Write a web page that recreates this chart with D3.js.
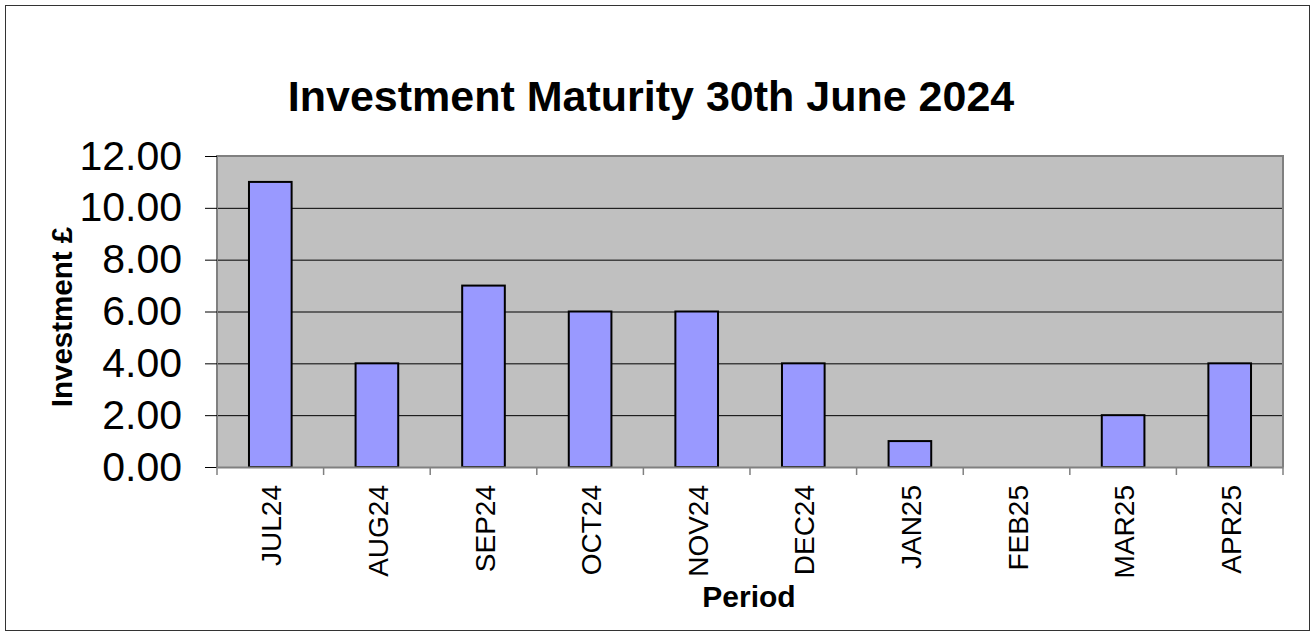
<!DOCTYPE html>
<html><head><meta charset="utf-8">
<script src="https://cdn.jsdelivr.net/npm/d3@7"></script>
<style>body{margin:0;background:#fff}svg{display:block}text{font-family:"Liberation Sans",Arial,sans-serif}</style>
</head><body><svg id="c" width="1313" height="632"></svg>
<script>
const categories = ["JUL24","AUG24","SEP24","OCT24","NOV24","DEC24","JAN25","FEB25","MAR25","APR25"];
const values = [11,4,7,6,6,4,1,0,2,4];
const yTicks = [0,2,4,6,8,10,12];
const title = "Investment Maturity 30th June 2024";
const yTitle = "Investment £";
const xTitle = "Period";

const svg = d3.select("#c");
const m = {l:217, t:156, r:1283, b:467};
svg.append("rect").attr("x",5.5).attr("y",5.5).attr("width",1304).attr("height",625).attr("fill","#fff").attr("stroke","#333").attr("stroke-width",1);

const x = d3.scaleBand().domain(categories).range([m.l,m.r]).paddingInner(0.6).paddingOuter(0.3);
const xb = d3.scaleBand().domain(categories).range([m.l,m.r]);
const y = d3.scaleLinear().domain([0,12]).range([m.b,m.t]);

svg.append("rect").attr("x",m.l).attr("y",m.t).attr("width",m.r-m.l).attr("height",m.b-m.t).attr("fill","#C0C0C0");
// gridlines
svg.append("g").selectAll("line").data(yTicks.filter(d=>d>0&&d<12)).join("line")
  .attr("x1",m.l).attr("x2",m.r).attr("y1",d=>y(d)+0.5).attr("y2",d=>y(d)+0.5).attr("stroke","#000").attr("stroke-width",1);
// plot border gray
svg.append("path").attr("d",`M${m.l},${m.b}V${m.t}H${m.r}V${m.b}`).attr("fill","none").attr("stroke","#808080").attr("stroke-width",2);

// bars
svg.append("g").selectAll("rect").data(values).join("rect")
  .attr("x",(d,i)=>x(categories[i])).attr("width",x.bandwidth())
  .attr("y",d=>y(d)).attr("height",d=>y(0)-y(d))
  .attr("fill","#9999FF").attr("stroke","#000").attr("stroke-width",2)
  .attr("display",d=>d>0?null:"none");

// y axis
const ya = svg.append("g").attr("transform",`translate(${m.l},0)`)
  .call(d3.axisLeft(y).tickValues(yTicks).tickFormat(d3.format(".2f")).tickSize(12).tickPadding(23));
ya.select(".domain").remove();
ya.selectAll("line").attr("stroke","#000");
ya.selectAll("text").attr("font-size",41).attr("fill","#000").attr("font-family","Liberation Sans, Arial, sans-serif");

// x axis
const xa = svg.append("g").attr("transform",`translate(0,${m.b})`)
  .call(d3.axisBottom(xb).tickSize(0).tickFormat(d=>d));
xa.select(".domain").attr("stroke","#808080").attr("stroke-width",2);
xa.selectAll("text").attr("font-size",28).attr("fill","#000").attr("font-family","Liberation Sans, Arial, sans-serif")
  .attr("transform","rotate(-90)").attr("text-anchor","end").attr("x",-18).attr("y",0).attr("dy","0.36em");
xa.selectAll(".tick").attr("transform",d=>`translate(${xb(d)+xb.bandwidth()/2+1},0)`);
// boundary ticks
const bounds = categories.map(c=>xb(c)).concat([m.r]);
svg.append("g").selectAll("line").data(bounds).join("line")
  .attr("x1",d=>d).attr("x2",d=>d).attr("y1",m.b).attr("y2",m.b+8).attr("stroke","#808080").attr("stroke-width",1.5);

svg.append("text").attr("x",651).attr("y",111).attr("text-anchor","middle").attr("font-size",43).attr("font-weight","bold").text(title);
svg.append("text").attr("transform",`translate(72,317) rotate(-90)`).attr("text-anchor","middle").attr("font-size",29.5).attr("font-weight","bold").text(yTitle);
svg.append("text").attr("x",749).attr("y",607).attr("text-anchor","middle").attr("font-size",30).attr("font-weight","bold").text(xTitle);
</script></body></html>
